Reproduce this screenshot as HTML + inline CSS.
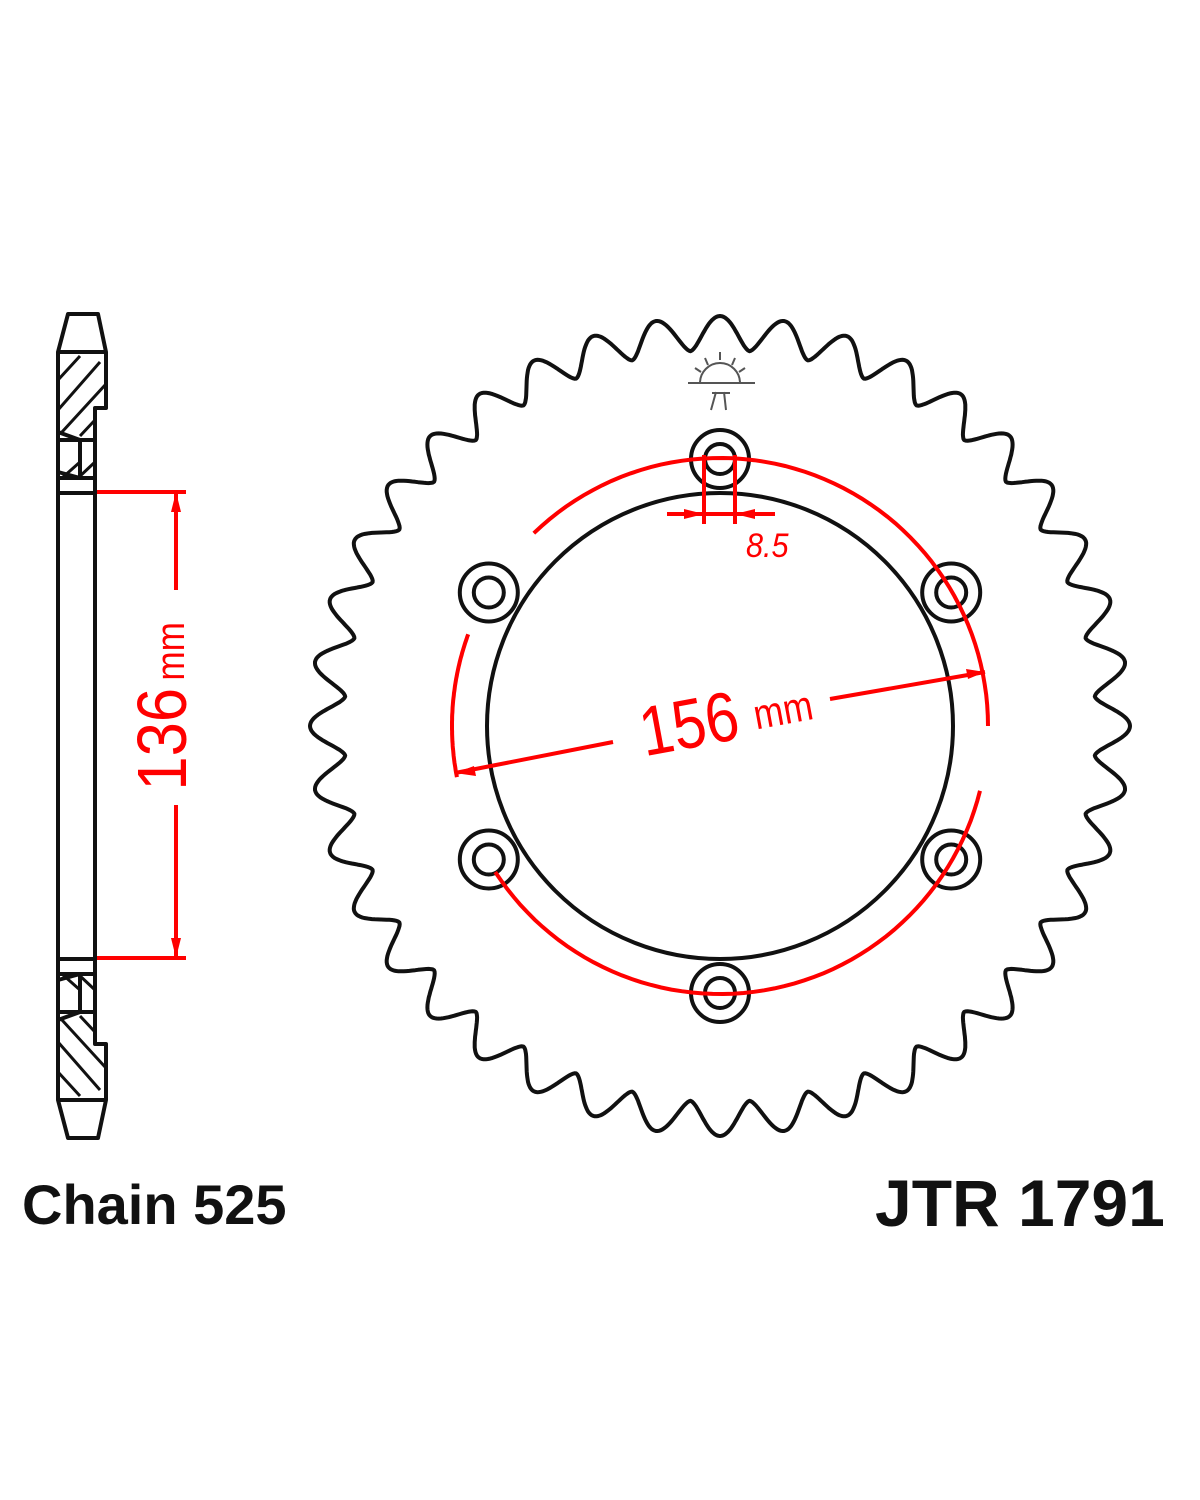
<!DOCTYPE html>
<html><head><meta charset="utf-8"><style>
html,body{margin:0;padding:0;background:#fff;}
svg{display:block}
</style></head><body>
<svg id="s" width="1200" height="1500" viewBox="0 0 1200 1500" xmlns="http://www.w3.org/2000/svg">
<g fill="none" stroke="#111" stroke-width="4" stroke-linejoin="round">
<path id="teeth" d=""/>
<circle cx="720" cy="726" r="233"/>
<g id="holes"></g>
</g>
<g fill="none" stroke="#f00" stroke-width="4">
<path id="redarcs" d=""/>
<line x1="704" y1="455" x2="704" y2="524"/>
<line x1="735" y1="455" x2="735" y2="524"/>
<line x1="667" y1="514" x2="775" y2="514"/>
<line x1="455" y1="773" x2="613" y2="742"/>
<line x1="830" y1="699" x2="985" y2="672"/>
<line x1="97" y1="492" x2="186" y2="492"/>
<line x1="97" y1="958" x2="186" y2="958"/>
<line x1="176" y1="492" x2="176" y2="590"/>
<line x1="176" y1="805" x2="176" y2="958"/>
</g>
<g fill="#f00">
<polygon points="704,514 684,509 684,519"/>
<polygon points="735,514 755,509 755,519"/>
<polygon points="455,773 474,766 476,776"/>
<polygon points="985,672 966,669 968,679"/>
<polygon points="176,492 171,512 181,512"/>
<polygon points="176,958 171,938 181,938"/>
</g>
<text x="746" y="557" fill="#f00" font-family="Liberation Sans, sans-serif" font-style="italic" font-size="34" transform="translate(746,0) scale(0.9,1) translate(-746,0)">8.5</text>
<g transform="translate(720,720) rotate(-10.5) scale(0.85,1)">
<text x="-95" y="22" fill="#f00" font-family="Liberation Sans, sans-serif" font-size="70">156</text>
<text x="40" y="16" fill="#f00" font-family="Liberation Sans, sans-serif" font-size="42">mm</text>
</g>
<g transform="translate(186,700) rotate(-90) scale(0.88,1)">
<text x="-103" y="0" fill="#f00" font-family="Liberation Sans, sans-serif" font-size="70">136</text>
<text x="22" y="-2" fill="#f00" font-family="Liberation Sans, sans-serif" font-size="40">mm</text>
</g>
<!-- side profile -->
<g fill="none" stroke="#111" stroke-width="4" stroke-linejoin="round" id="prof">
<g id="half">
<polygon points="68,314 98,314 106,352 58,352"/>
<line x1="58" y1="352" x2="58" y2="726"/>
<polyline points="106,352 106,408 95,408 95,726"/>
<line x1="58" y1="440" x2="95" y2="440"/>
<line x1="58" y1="478" x2="95" y2="478"/>
<line x1="58" y1="493" x2="95" y2="493"/>
<line x1="80" y1="440" x2="80" y2="478"/>
<line x1="58" y1="432" x2="80" y2="440"/>
<line x1="58" y1="472" x2="80" y2="478"/>
<g stroke-width="3">
<line x1="58" y1="380" x2="80" y2="356"/>
<line x1="58" y1="410" x2="100" y2="362"/>
<line x1="62" y1="432" x2="106" y2="384"/>
<line x1="80" y1="436" x2="95" y2="420"/>
<line x1="62" y1="478" x2="80" y2="462"/>
<line x1="78" y1="478" x2="95" y2="462"/>
</g>
</g>
<use href="#half" transform="translate(0,1452) scale(1,-1)"/>
</g>
<!-- logo -->
<g stroke="#555" stroke-width="2" fill="none">
<path d="M700,383 A20,20 0 0 1 740,383"/>
<line x1="688" y1="383" x2="755" y2="383"/>
<line x1="720" y1="352" x2="720" y2="360"/>
<line x1="705" y1="358" x2="708" y2="365"/>
<line x1="735" y1="358" x2="732" y2="365"/>
<line x1="695" y1="368" x2="701" y2="372"/>
<line x1="745" y1="368" x2="739" y2="372"/>
<path d="M711,410 L716,392 M724,392 L726,410 M712,393 L730,393"/>
</g>
<text x="22" y="1224" font-family="Liberation Sans, sans-serif" font-weight="bold" font-size="56" fill="#111">Chain 525</text>
<text x="875" y="1226" font-family="Liberation Sans, sans-serif" font-weight="bold" font-size="66" fill="#111">JTR 1791</text>
</svg>
<script>
(function(){
var cx=720,cy=726,N=40,rt=410,rr=376,d="";
for(var i=0;i<=1600;i++){
 var t=i/1600*2*Math.PI;
 var ph=t*N;
 var f=Math.pow((1+Math.cos(ph))/2,0.8);
 var r=rr+(rt-rr)*f;
 var a=t-Math.PI/2;
 var x=cx+r*Math.cos(a),y=cy+r*Math.sin(a);
 d+=(i?"L":"M")+x.toFixed(1)+","+y.toFixed(1);
}
document.getElementById("teeth").setAttribute("d",d+"Z");
var h="",R=267;
[-90,-30,30,90,150,210].forEach(function(g){
 var a=g*Math.PI/180,x=cx+R*Math.cos(a),y=cy+R*Math.sin(a);
 h+='<circle cx="'+x.toFixed(1)+'" cy="'+y.toFixed(1)+'" r="29"/><circle cx="'+x.toFixed(1)+'" cy="'+y.toFixed(1)+'" r="15"/>';
});
document.getElementById("holes").innerHTML=h;
function arc(a1,a2){
 var p="";for(var i=0;i<=60;i++){var a=(a1+(a2-a1)*i/60)*Math.PI/180;
 p+=(i?"L":"M")+(cx+268*Math.cos(a)).toFixed(1)+","+(cy+268*Math.sin(a)).toFixed(1);}
 return p;}
document.getElementById("redarcs").setAttribute("d",arc(169,200)+arc(226,360)+arc(14,147));
})();
</script>
</body></html>
